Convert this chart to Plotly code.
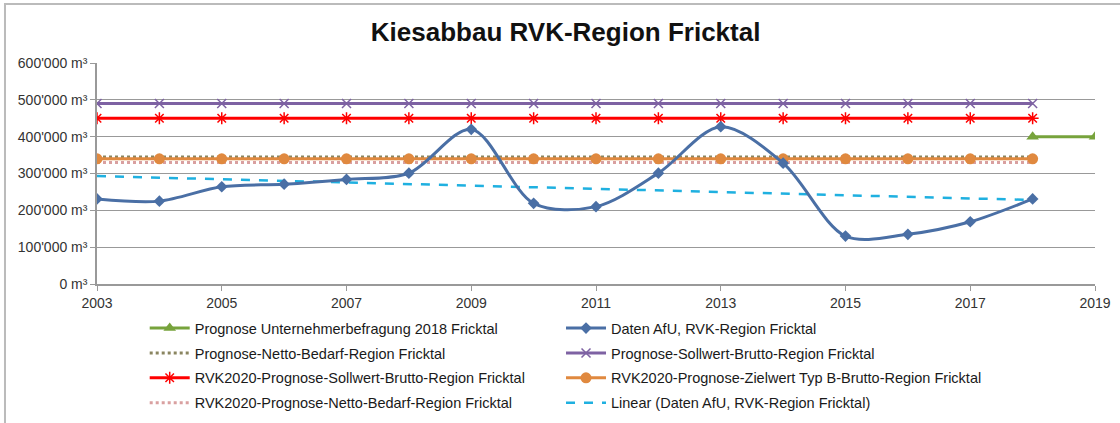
import plotly.graph_objects as go

# ---- data ----
years = list(range(2003, 2019))
daten_afu = [231000, 225000, 264000, 271000, 284000, 301000, 420000, 219000,
             210000, 301000, 427000, 328000, 130000, 135000, 169000, 231000]
sollwert_brutto = [490000] * 16
rvk_sollwert_brutto = [450000] * 16
rvk_zielwert_b = [340000] * 16
netto_bedarf = [345000] * 16
rvk_netto_bedarf = [330000] * 16
umfrage_years = [2018, 2019]
umfrage_vals = [400000, 400000]
trend_years = [2003, 2018]
trend_vals = [293000, 228000]

y_tickvals = [0, 100000, 200000, 300000, 400000, 500000, 600000]
y_ticktext = ["0 m³", "100'000 m³", "200'000 m³", "300'000 m³",
              "400'000 m³", "500'000 m³", "600'000 m³"]
x_tickvals = [2003, 2005, 2007, 2009, 2011, 2013, 2015, 2017, 2019]

FONT = "Liberation Sans, Arial, sans-serif"

fig = go.Figure()

fig.add_trace(go.Scatter(
    x=umfrage_years, y=umfrage_vals, mode="lines+markers",
    name="Prognose Unternehmerbefragung 2018 Fricktal",
    line=dict(color="#77A33C", width=3),
    marker=dict(symbol="triangle-up", size=11, color="#77A33C"),
    legend="legend", legendrank=1, legendgroup="a1"))
fig.add_trace(go.Scatter(
    x=years, y=netto_bedarf, mode="lines",
    name="Prognose-Netto-Bedarf-Region Fricktal",
    line=dict(color="#8A8560", width=3, dash="dot"),
    legend="legend", legendrank=2, legendgroup="a2"))
fig.add_trace(go.Scatter(
    x=years, y=rvk_netto_bedarf, mode="lines",
    name="RVK2020-Prognose-Netto-Bedarf-Region Fricktal",
    line=dict(color="#D9A0A0", width=3, dash="dot"),
    legend="legend", legendrank=4, legendgroup="a4"))
fig.add_trace(go.Scatter(
    x=years, y=rvk_zielwert_b, mode="lines+markers",
    name="RVK2020-Prognose-Zielwert Typ B-Brutto-Region Fricktal",
    line=dict(color="#E0893F", width=3),
    marker=dict(symbol="circle", size=11, color="#E0893F"),
    legend="legend2", legendrank=3, legendgroup="b3"))
fig.add_trace(go.Scatter(
    x=years, y=sollwert_brutto, mode="lines+markers",
    name="Prognose-Sollwert-Brutto-Region Fricktal",
    line=dict(color="#7E62A3", width=3),
    marker=dict(symbol="x-thin-open", size=9, color="#7E62A3",
                line=dict(color="#7E62A3", width=1.5)),
    legend="legend2", legendrank=2, legendgroup="b2"))
fig.add_trace(go.Scatter(
    x=years, y=rvk_sollwert_brutto, mode="lines+markers",
    name="RVK2020-Prognose-Sollwert-Brutto-Region Fricktal",
    line=dict(color="#FF0000", width=3),
    marker=dict(symbol="asterisk-open", size=10, color="#FF0000",
                line=dict(color="#FF0000", width=1.5)),
    legend="legend", legendrank=3, legendgroup="a3"))
fig.add_trace(go.Scatter(
    x=trend_years, y=trend_vals, mode="lines",
    name="Linear (Daten AfU, RVK-Region Fricktal)",
    line=dict(color="#1FB0E0", width=2.5, dash="dash"),
    legend="legend2", legendrank=4, legendgroup="b4"))
fig.add_trace(go.Scatter(
    x=years, y=daten_afu, mode="lines+markers",
    name="Daten AfU, RVK-Region Fricktal",
    line=dict(color="#4A6FA5", width=3, shape="spline", smoothing=0.9),
    marker=dict(symbol="diamond", size=9, color="#4A6FA5"),
    legend="legend2", legendrank=1, legendgroup="b1"))

legend_common = dict(
    orientation="v", yanchor="top", xanchor="left",
    xref="container", yref="container",
    font=dict(family=FONT, size=14.5, color="#1a1a1a"),
    bgcolor="rgba(0,0,0,0)", tracegroupgap=3, traceorder="grouped",
    itemwidth=40,
)

fig.update_layout(
    width=1120, height=423,
    margin=dict(l=97, r=25, t=63, b=139, autoexpand=False),
    paper_bgcolor="white", plot_bgcolor="white",
    title=dict(text="<b>Kiesabbau RVK-Region Fricktal</b>",
               font=dict(family=FONT, size=26, color="#111111"),
               x=0.505, xanchor="center", y=0.925, yanchor="middle"),
    font=dict(family=FONT, size=14, color="#333333"),
    legend=dict(x=0.1292, y=0.262, **legend_common),
    legend2=dict(x=0.5009, y=0.262, **legend_common),
    xaxis=dict(range=[2003, 2019], tickvals=x_tickvals, showgrid=False,
               showline=True, linecolor="#999999", linewidth=1.5,
               ticks="outside", ticklen=5, tickcolor="#999999",
               tickfont=dict(family=FONT, size=14, color="#333333"),
               zeroline=False, automargin=False),
    yaxis=dict(range=[0, 600000], tickvals=y_tickvals, ticktext=y_ticktext,
               showgrid=True, gridcolor="#999999", gridwidth=1.2,
               showline=True, linecolor="#999999", linewidth=1.5,
               ticks="outside", ticklen=5, tickcolor="#999999",
               tickfont=dict(family=FONT, size=14, color="#333333"),
               zeroline=False, automargin=False),
    shapes=[dict(type="rect", xref="paper", yref="paper",
                 x0=-0.0922, x1=1.04, y0=-0.7, y1=1.267,
                 line=dict(color="#BBBBBB", width=2), layer="below")],
)

fig.write_html("out.html", config={"displayModeBar": False},
               post_script="document.body.style.margin='0';")
